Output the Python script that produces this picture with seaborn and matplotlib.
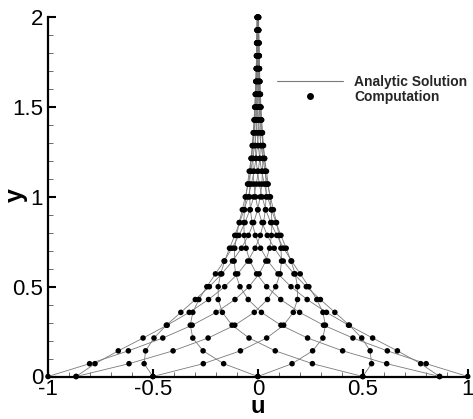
import numpy as np
import pandas as pd
import matplotlib
matplotlib.use('Agg')
import matplotlib.pyplot as plt
import seaborn as sns
from matplotlib.ticker import MultipleLocator, FuncFormatter
from matplotlib.lines import Line2D

# ---- data (velocity profiles at 12 phases, sampled at 29 heights) ----
y_levels = [0.0000, 0.0714, 0.1429, 0.2143, 0.2857, 0.3571, 0.4286, 0.5000,
            0.5714, 0.6429, 0.7143, 0.7857, 0.8571, 0.9286, 1.0000, 1.0714,
            1.1429, 1.2143, 1.2857, 1.3571, 1.4286, 1.5000, 1.5714, 1.6429,
            1.7143, 1.7857, 1.8571, 1.9286, 2.0000]

u_phase000 = [1.000, 0.802, 0.617, 0.453, 0.313, 0.199, 0.109, 0.042, -0.006, -0.038,
              -0.056, -0.065, -0.067, -0.064, -0.057, -0.049, -0.041, -0.032, -0.025,
              -0.018, -0.012, -0.007, -0.004, -0.001, 0.001, 0.002, 0.003, 0.003, 0.003]
u_phase030 = [0.866, 0.776, 0.665, 0.547, 0.432, 0.327, 0.235, 0.158, 0.096, 0.048,
              0.013, -0.012, -0.027, -0.036, -0.039, -0.039, -0.036, -0.032, -0.027,
              -0.022, -0.017, -0.013, -0.009, -0.006, -0.003, -0.002, 0.000, 0.001, 0.001]
u_phase060 = [0.500, 0.542, 0.535, 0.495, 0.436, 0.367, 0.298, 0.231, 0.172, 0.121,
              0.078, 0.045, 0.020, 0.001, -0.011, -0.019, -0.022, -0.024, -0.023,
              -0.021, -0.018, -0.015, -0.012, -0.009, -0.007, -0.005, -0.003, -0.002, -0.001]
u_phase090 = [0.000, 0.163, 0.261, 0.310, 0.322, 0.310, 0.281, 0.243, 0.202, 0.161,
              0.123, 0.090, 0.061, 0.038, 0.020, 0.007, -0.002, -0.009, -0.012,
              -0.014, -0.014, -0.013, -0.012, -0.010, -0.008, -0.006, -0.005, -0.003, -0.002]
u_phase120 = [-0.500, -0.260, -0.083, 0.042, 0.123, 0.169, 0.189, 0.189, 0.178, 0.158,
              0.135, 0.110, 0.087, 0.065, 0.046, 0.031, 0.018, 0.009, 0.002,
              -0.003, -0.006, -0.008, -0.008, -0.008, -0.007, -0.007, -0.006, -0.004, -0.003]
u_phase150 = [-0.866, -0.614, -0.404, -0.237, -0.110, -0.017, 0.046, 0.085, 0.106, 0.113,
              0.110, 0.101, 0.089, 0.074, 0.060, 0.046, 0.034, 0.024, 0.015,
              0.008, 0.003, 0.000, -0.003, -0.004, -0.005, -0.005, -0.005, -0.004, -0.004]
u_phase180 = [-1.000, -0.802, -0.617, -0.453, -0.313, -0.199, -0.109, -0.042, 0.006, 0.038,
              0.056, 0.065, 0.067, 0.064, 0.057, 0.049, 0.041, 0.032, 0.025,
              0.018, 0.012, 0.007, 0.004, 0.001, -0.001, -0.002, -0.003, -0.003, -0.003]
u_phase210 = [-0.866, -0.776, -0.665, -0.547, -0.432, -0.327, -0.235, -0.158, -0.096, -0.048,
              -0.013, 0.012, 0.027, 0.036, 0.039, 0.039, 0.036, 0.032, 0.027,
              0.022, 0.017, 0.013, 0.009, 0.006, 0.003, 0.002, 0.000, -0.001, -0.001]
u_phase240 = [-0.500, -0.542, -0.535, -0.495, -0.436, -0.367, -0.298, -0.231, -0.172, -0.121,
              -0.078, -0.045, -0.020, -0.001, 0.011, 0.019, 0.022, 0.024, 0.023,
              0.021, 0.018, 0.015, 0.012, 0.009, 0.007, 0.005, 0.003, 0.002, 0.001]
u_phase270 = [0.000, -0.163, -0.261, -0.310, -0.322, -0.310, -0.281, -0.243, -0.202, -0.161,
              -0.123, -0.090, -0.061, -0.038, -0.020, -0.007, 0.002, 0.009, 0.012,
              0.014, 0.014, 0.013, 0.012, 0.010, 0.008, 0.006, 0.005, 0.003, 0.002]
u_phase300 = [0.500, 0.260, 0.083, -0.042, -0.123, -0.169, -0.189, -0.189, -0.178, -0.158,
              -0.135, -0.110, -0.087, -0.065, -0.046, -0.031, -0.018, -0.009, -0.002,
              0.003, 0.006, 0.008, 0.008, 0.008, 0.007, 0.007, 0.006, 0.004, 0.003]
u_phase330 = [0.866, 0.614, 0.404, 0.237, 0.110, 0.017, -0.046, -0.085, -0.106, -0.113,
              -0.110, -0.101, -0.089, -0.074, -0.060, -0.046, -0.034, -0.024, -0.015,
              -0.008, -0.003, 0.000, 0.003, 0.004, 0.005, 0.005, 0.005, 0.004, 0.004]

profiles = {
    'p000': u_phase000, 'p030': u_phase030, 'p060': u_phase060, 'p090': u_phase090,
    'p120': u_phase120, 'p150': u_phase150, 'p180': u_phase180, 'p210': u_phase210,
    'p240': u_phase240, 'p270': u_phase270, 'p300': u_phase300, 'p330': u_phase330,
}
x_ticks = [-1, -0.5, 0, 0.5, 1]
y_ticks = [0, 0.5, 1, 1.5, 2]
legend_labels = ['Analytic Solution', 'Computation']

frames = [pd.DataFrame({'u': vals, 'y': y_levels, 'profile': name})
          for name, vals in profiles.items()]
df = pd.concat(frames, ignore_index=True)

# ---- style ----
sns.set_theme(style='ticks')
plt.rcParams['font.family'] = ['Liberation Sans', 'DejaVu Sans']
plt.rcParams['axes.unicode_minus'] = False

fig = plt.figure(figsize=(4.73, 4.19), dpi=100)
ax = fig.add_axes([48 / 473, 1 - 376.5 / 419, (467.7 - 48) / 473, (376.5 - 17.3) / 419])

sns.lineplot(data=df, x='u', y='y', units='profile', estimator=None, sort=False,
             color='#7a7a7a', lw=0.6, ax=ax, legend=False, zorder=2)
sns.scatterplot(data=df, x='u', y='y', color='black', s=16, edgecolor='none',
                ax=ax, legend=False, zorder=3, clip_on=False)

ax.set_xlim(-1, 1)
ax.set_ylim(0, 2)
ax.set_xticks(x_ticks)
ax.set_yticks(y_ticks)
fmt = FuncFormatter(lambda v, p: f'{v:g}')
ax.xaxis.set_major_formatter(fmt)
ax.yaxis.set_major_formatter(fmt)
ax.xaxis.set_minor_locator(MultipleLocator(0.1))
ax.yaxis.set_minor_locator(MultipleLocator(0.1))

for s in ['top', 'right']:
    ax.spines[s].set_visible(False)
for s in ['left', 'bottom']:
    ax.spines[s].set_linewidth(1.6)
    ax.spines[s].set_color('black')
    ax.spines[s].set_zorder(1)

ax.tick_params(axis='both', which='major', direction='in', length=6, width=1.5,
               color='black', labelsize=16, labelcolor='black')
ax.tick_params(axis='both', which='minor', direction='in', length=3.5, width=0.6,
               color='#555555')
ax.tick_params(axis='x', which='major', pad=1.5)
ax.tick_params(axis='y', which='major', pad=3.5)

ax.set_xlabel('u', fontsize=17, fontweight='bold', color='black')
ax.set_ylabel('y', fontsize=18, fontweight='bold', color='black')
ax.xaxis.set_label_coords(0.5, -(413 - 376.5) / 359.2)
ax.xaxis.label.set_va('baseline')
ax.yaxis.set_label_coords(-0.077, 0.505)
ax.yaxis.label.set_va('center')

handles = [Line2D([], [], color='#7a7a7a', lw=0.8),
           Line2D([], [], color='black', marker='o', markersize=4, lw=0)]
leg = ax.legend(handles, legend_labels, loc='upper left',
                bbox_to_anchor=(277 / 473, 1 - 75 / 419), bbox_transform=fig.transFigure,
                frameon=False, borderpad=0, borderaxespad=0, labelspacing=0.05,
                handlelength=4.75, handletextpad=0.8,
                prop={'family': 'Liberation Sans', 'weight': 'bold', 'size': 10})

fig.savefig('out.png', dpi=100, facecolor='white')
